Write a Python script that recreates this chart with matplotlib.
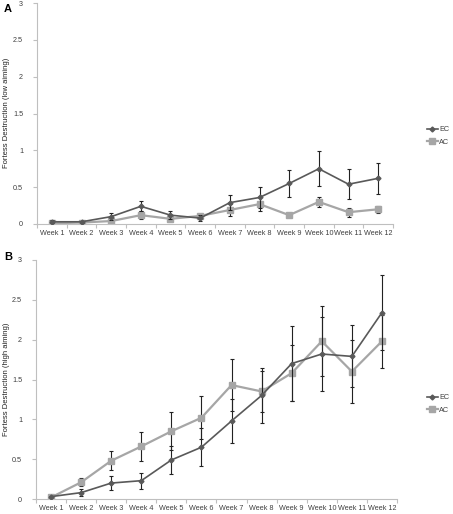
import matplotlib
matplotlib.use("Agg")
import matplotlib.pyplot as plt
from matplotlib.lines import Line2D
import numpy as np

plt.rcParams['font.family'] = ['Liberation Sans', 'DejaVu Sans']

weeks = ["Week 1", "Week 2", "Week 3", "Week 4", "Week 5", "Week 6",
         "Week 7", "Week 8", "Week 9", "Week 10", "Week 11", "Week 12"]

# Panel A (low aiming)
ec_low = [0.03, 0.03, 0.10, 0.24, 0.12, 0.08, 0.29, 0.36, 0.55, 0.75, 0.54, 0.62]
ec_low_err = [0.02, 0.01, 0.05, 0.07, 0.05, 0.04, 0.10, 0.14, 0.18, 0.24, 0.20, 0.21]
ac_low = [0.01, 0.02, 0.04, 0.12, 0.07, 0.11, 0.19, 0.27, 0.12, 0.30, 0.16, 0.20]
ac_low_err = [0.01, 0.01, 0.02, 0.05, 0.02, 0.03, 0.08, 0.09, 0.01, 0.07, 0.06, 0.05]

# Panel B (high aiming)
ec_high = [0.03, 0.08, 0.20, 0.23, 0.49, 0.65, 0.98, 1.30, 1.70, 1.82, 1.79, 2.34]
ec_high_err = [0.01, 0.045, 0.085, 0.10, 0.18, 0.24, 0.28, 0.34, 0.47, 0.47, 0.39, 0.47]
ac_high = [0.02, 0.21, 0.48, 0.66, 0.85, 1.02, 1.43, 1.35, 1.58, 1.98, 1.60, 1.98]
ac_high_err = [0.01, 0.05, 0.12, 0.18, 0.24, 0.27, 0.33, 0.26, 0.35, 0.44, 0.39, 0.33]

series_names = ["EC", "AC"]
panel_labels = ["A", "B"]
ylabels = ["Fortess Destruction (low aiming)", "Fortess Destruction (high aiming)"]

W, H = 453, 514
fig = plt.figure(figsize=(W / 100, H / 100), dpi=100)

ec_color = "#595959"
ac_color = "#a6a6a6"
axis_color = "#bfbfbf"
text_color = "#404040"

rects = [
    [37 / W, (H - 224) / H, 356 / W, 221 / H],
    [36 / W, (H - 499) / H, 361 / W, 239 / H],
]
data = [
    (ec_low, ec_low_err, ac_low, ac_low_err),
    (ec_high, ec_high_err, ac_high, ac_high_err),
]
legend_y = [(H - 136) / H, (H - 404) / H]
label_pos = [(4 / W, (H - 4) / H), (4 / W, (H - 252) / H)]
ylabel_y = [(H - 113) / H, (H - 379) / H]

x = np.arange(1, len(weeks) + 1)
for i in range(2):
    ax = fig.add_axes(rects[i])
    ec, ece, ac, ace = data[i]
    ax.errorbar(x, ac, yerr=ace, color=ac_color, lw=1.6, marker="s", ms=4.5,
                ecolor="#222222", elinewidth=0.8, capsize=1.5, capthick=0.8,
                zorder=2)
    ax.errorbar(x, ec, yerr=ece, color=ec_color, lw=1.2, marker="D", ms=2.5,
                ecolor="#222222", elinewidth=0.8, capsize=1.5, capthick=0.8,
                zorder=3)
    ax.set_xlim(0.5, len(weeks) + 0.5)
    ax.set_ylim(0, 3)
    ax.set_yticks([0, 0.5, 1, 1.5, 2, 2.5, 3])
    ax.set_yticklabels(["0", "0.5", "1", "1.5", "2", "2.5", "3"])
    ax.set_xticks(x)
    ax.set_xticklabels(weeks)
    ax.set_xticks(np.arange(0.5, len(weeks) + 1, 1), minor=True)
    ax.tick_params(axis="x", which="major", length=0, pad=4, labelsize=5.2)
    ax.tick_params(axis="x", which="minor", length=3, color=axis_color, width=0.8)
    ax.tick_params(axis="y", length=3, color=axis_color, width=0.8, labelsize=5.2,
                   pad=7)
    for lab in ax.get_yticklabels() + ax.get_xticklabels():
        lab.set_color(text_color)
    for s in ["top", "right"]:
        ax.spines[s].set_visible(False)
    for s in ["left", "bottom"]:
        ax.spines[s].set_color(axis_color)
        ax.spines[s].set_linewidth(0.8)
    fig.text(7 / W, ylabel_y[i], ylabels[i], fontsize=5.5, color="#222222",
             rotation=90, ha="center", va="center")
    handles = [
        Line2D([], [], color=ec_color, lw=1.2, marker="D", ms=2.5),
        Line2D([], [], color=ac_color, lw=1.6, marker="s", ms=4.5),
    ]
    fig.legend(handles, series_names,
               loc="center left", bbox_to_anchor=(427 / W, legend_y[i]),
               frameon=False, fontsize=5.2, handlelength=1.5, handletextpad=0.2,
               labelspacing=0.8, borderaxespad=0, borderpad=0,
               labelcolor=text_color)
    fig.text(label_pos[i][0], label_pos[i][1], panel_labels[i], fontsize=8,
             fontweight="bold", va="top", ha="left")

fig.savefig("out.png", dpi=100)
